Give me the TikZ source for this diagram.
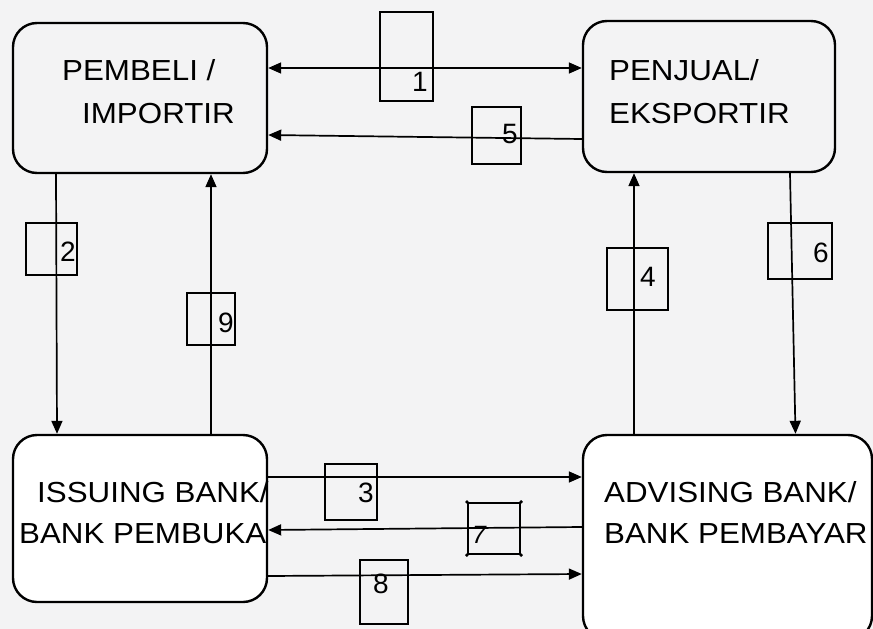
\documentclass[tikz,border=0pt]{standalone}
\usepackage{fontspec}
\setmainfont{Liberation Sans}
\newfontfamily\widefont[FakeStretch=1.08]{Liberation Sans}
\usetikzlibrary{arrows.meta}
\definecolor{bgc}{HTML}{F3F3F4}
\tikzset{
 entity/.style={draw, line width=2.4pt, rounded corners=24pt, inner sep=0pt},
 flow/.style={line width=1.7pt, ->},
 tag/.style={draw, line width=2.8pt, inner sep=0pt},
 txt/.style={anchor=base west, inner sep=0pt, font=\widefont\fontsize{29}{34}\selectfont},
 num/.style={anchor=base, inner sep=0pt, font=\fontsize{28}{32}\selectfont},
}
\begin{document}
\begin{tikzpicture}[x=1pt,y=-1pt,>={Triangle[length=13pt,width=11pt]}]
\useasboundingbox (0,0) rectangle (873,629);
\clip (0,0) rectangle (873,629);
\fill[bgc] (0,0) rectangle (873,629);

% main boxes
\node[entity, minimum width=254pt, minimum height=150pt] (A) at (140,98) {};
\node[entity, minimum width=252pt, minimum height=151pt] (B) at (709,96.5) {};
\node[entity, fill=white, minimum width=254pt, minimum height=167pt] (C) at (140,518.5) {};
\node[entity, fill=white, minimum width=289pt, minimum height=205pt] (D) at (727.5,537.5) {};

% box texts
\node[txt] (tA1) at (62,80) {PEMBELI /};
\node[txt] (tA2) at (82,123) {IMPORTIR};
\node[txt] (tB1) at (609,80) {PENJUAL/};
\node[txt] (tB2) at (609,123) {EKSPORTIR};
\node[txt] (tC1) at (37,502) {ISSUING BANK/};
\node[txt] (tC2) at (19,543) {BANK PEMBUKA};
\node[txt] (tD1) at (604,502) {ADVISING BANK/};
\node[txt] (tD2) at (604,543) {BANK PEMBAYAR};

% connectors
\draw[flow, <->] ([yshift=30pt]A.east) -- ([yshift=28.5pt]B.west);
\draw[flow] ([yshift=-42.5pt]B.west) -- ([yshift=-37pt]A.east);
\draw[flow] ([xshift=-84pt]A.south) -- ([xshift=-83pt]C.north);
\draw[flow] ([xshift=71pt]C.north) -- ([xshift=71pt]A.south);
\draw[flow] ([xshift=-93.5pt]D.north) -- ([xshift=-75pt]B.south);
\draw[flow] ([xshift=81pt]B.south) -- ([xshift=68pt]D.north);
\draw[flow] ([yshift=41.5pt]C.east) -- ([yshift=60.5pt]D.west);
\draw[flow] ([yshift=10.5pt]D.west) -- ([yshift=-11.5pt]C.east);
\draw[flow] ([yshift=-57.5pt]C.east) -- ([yshift=-36.5pt]D.west);

% number tags
\node[tag, minimum width=53pt, minimum height=89pt] (L1) at (406.5,56.5) {};
\node[tag, minimum width=51pt, minimum height=52pt] (L2) at (51.5,249) {};
\node[tag, minimum width=52pt, minimum height=56pt] (L3) at (351,492) {};
\node[tag, minimum width=61pt, minimum height=62pt] (L4) at (637.5,279) {};
\node[tag, minimum width=49pt, minimum height=57pt] (L5) at (496.5,135.5) {};
\node[tag, minimum width=64pt, minimum height=56pt] (L6) at (800,251) {};
\node[tag, line width=2.2pt, minimum width=52pt, minimum height=51pt] (L7) at (494,528.5) {};
\node[tag, minimum width=48pt, minimum height=64pt] (L8) at (384,592) {};
\node[tag, minimum width=48pt, minimum height=52pt] (L9) at (211,319) {};
\foreach \c in {north west, north east, south west, south east}
  \fill (L7.\c) circle (1.8pt);

\node[num] (n1) at (420,91) {1};
\node[num] (n2) at (68,261) {2};
\node[num] (n3) at (366,502) {3};
\node[num] (n4) at (648,286) {4};
\node[num] (n5) at (510,143) {5};
\node[num] (n6) at (821,262) {6};
\node[num, font=\fontsize{25}{28}\selectfont\itshape] (n7) at (479,543) {7};
\node[num] (n8) at (381,593) {8};
\node[num] (n9) at (226,332) {9};
\end{tikzpicture}
\end{document}
